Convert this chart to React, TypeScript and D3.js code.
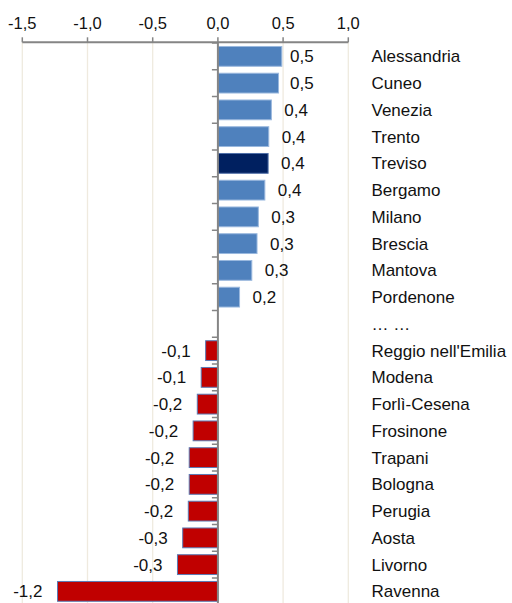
import React from "react";
import * as d3 from "d3";

const categories = [
  "Alessandria", "Cuneo", "Venezia", "Trento", "Treviso", "Bergamo", "Milano", "Brescia", "Mantova", "Pordenone",
  "… …",
  "Reggio nell'Emilia", "Modena", "Forlì-Cesena", "Frosinone", "Trapani", "Bologna", "Perugia", "Aosta", "Livorno", "Ravenna",
];
const values: (number | null)[] = [
  0.49, 0.465, 0.41, 0.39, 0.385, 0.36, 0.31, 0.3, 0.26, 0.166,
  null,
  -0.094, -0.128, -0.158, -0.19, -0.22, -0.22, -0.227, -0.27, -0.31, -1.23,
];
const highlight = ["Treviso"];
const xTicks = [-1.5, -1.0, -0.5, 0.0, 0.5, 1.0];

const W = 512;
const H = 603;

export default function App() {
  const x = d3.scaleLinear().domain([-1.5, 1.0]).range([22.3, 348.3]);
  const y = d3.scaleBand<string>().domain(categories).range([43, 43 + 21 * 26.75]).paddingInner(0.26).paddingOuter(0.13);
  const fmt = (v: number) => d3.format(".1f")(v).replace(".", ",").replace("−", "-");
  const step = y.step();
  const font = "'Liberation Sans', Arial, sans-serif";
  const axisY = 42.3;
  const x0 = x(0);
  return (
    <svg width={W} height={H} style={{ position: "absolute", left: 0, top: 0 }} fontFamily={font}>
      <rect width={W} height={H} fill="#ffffff" />
      {xTicks.filter((t) => t !== 0).map((t) => (
        <line key={"g" + t} x1={x(t)} x2={x(t)} y1={axisY} y2={H} stroke="#efeadf" strokeWidth={1.3} />
      ))}
      <line x1={x(-1.5)} x2={x(1.0)} y1={axisY} y2={axisY} stroke="#858585" strokeWidth={2} />
      {xTicks.map((t) => (
        <g key={"t" + t}>
          <line x1={x(t)} x2={x(t)} y1={axisY - 5} y2={axisY} stroke="#858585" strokeWidth={1.5} />
          <text x={x(t)} y={29} textAnchor="middle" fontSize={16.5} fill="#111">{fmt(t)}</text>
        </g>
      ))}
      {categories.map((c, i) => {
        const v = values[i];
        const yc = (y(c) as number) + y.bandwidth() / 2;
        const items: React.ReactNode[] = [];
        if (v !== null) {
          const pos = v >= 0;
          const left = pos ? x0 : x(v);
          const wdt = Math.abs(x(v) - x0);
          const isHi = highlight.includes(c);
          const fill = pos ? (isHi ? "#002060" : "#4f81bd") : "#c00000";
          const stroke = pos ? (isHi ? "#4f6fa8" : "#9ab8de") : "#5b7bb5";
          items.push(
            <rect key="b" x={left} y={y(c)} width={wdt} height={y.bandwidth()} fill={fill} stroke={stroke} strokeWidth={1} />
          );
          const lx = pos ? Math.min(x(v) + 13, 290) : x(v) - 15;
          items.push(
            <text key="v" x={lx} y={yc + 6} textAnchor={pos ? "start" : "end"} fontSize={17} fill="#111">
              {fmt(v)}
            </text>
          );
        }
        items.push(
          <text key="c" x={371.5} y={yc + 6} fontSize={17} fill="#111">{c}</text>
        );
        return <g key={c}>{items}</g>;
      })}
      <line x1={x0} x2={x0} y1={axisY} y2={H} stroke="#858585" strokeWidth={2} />
      {d3.range(categories.length + 1).map((i) => {
        const yy = 43 + i * step;
        return <line key={"zt" + i} x1={x0 - 6} x2={x0} y1={yy} y2={yy} stroke="#858585" strokeWidth={1.5} />;
      })}
    </svg>
  );
}
